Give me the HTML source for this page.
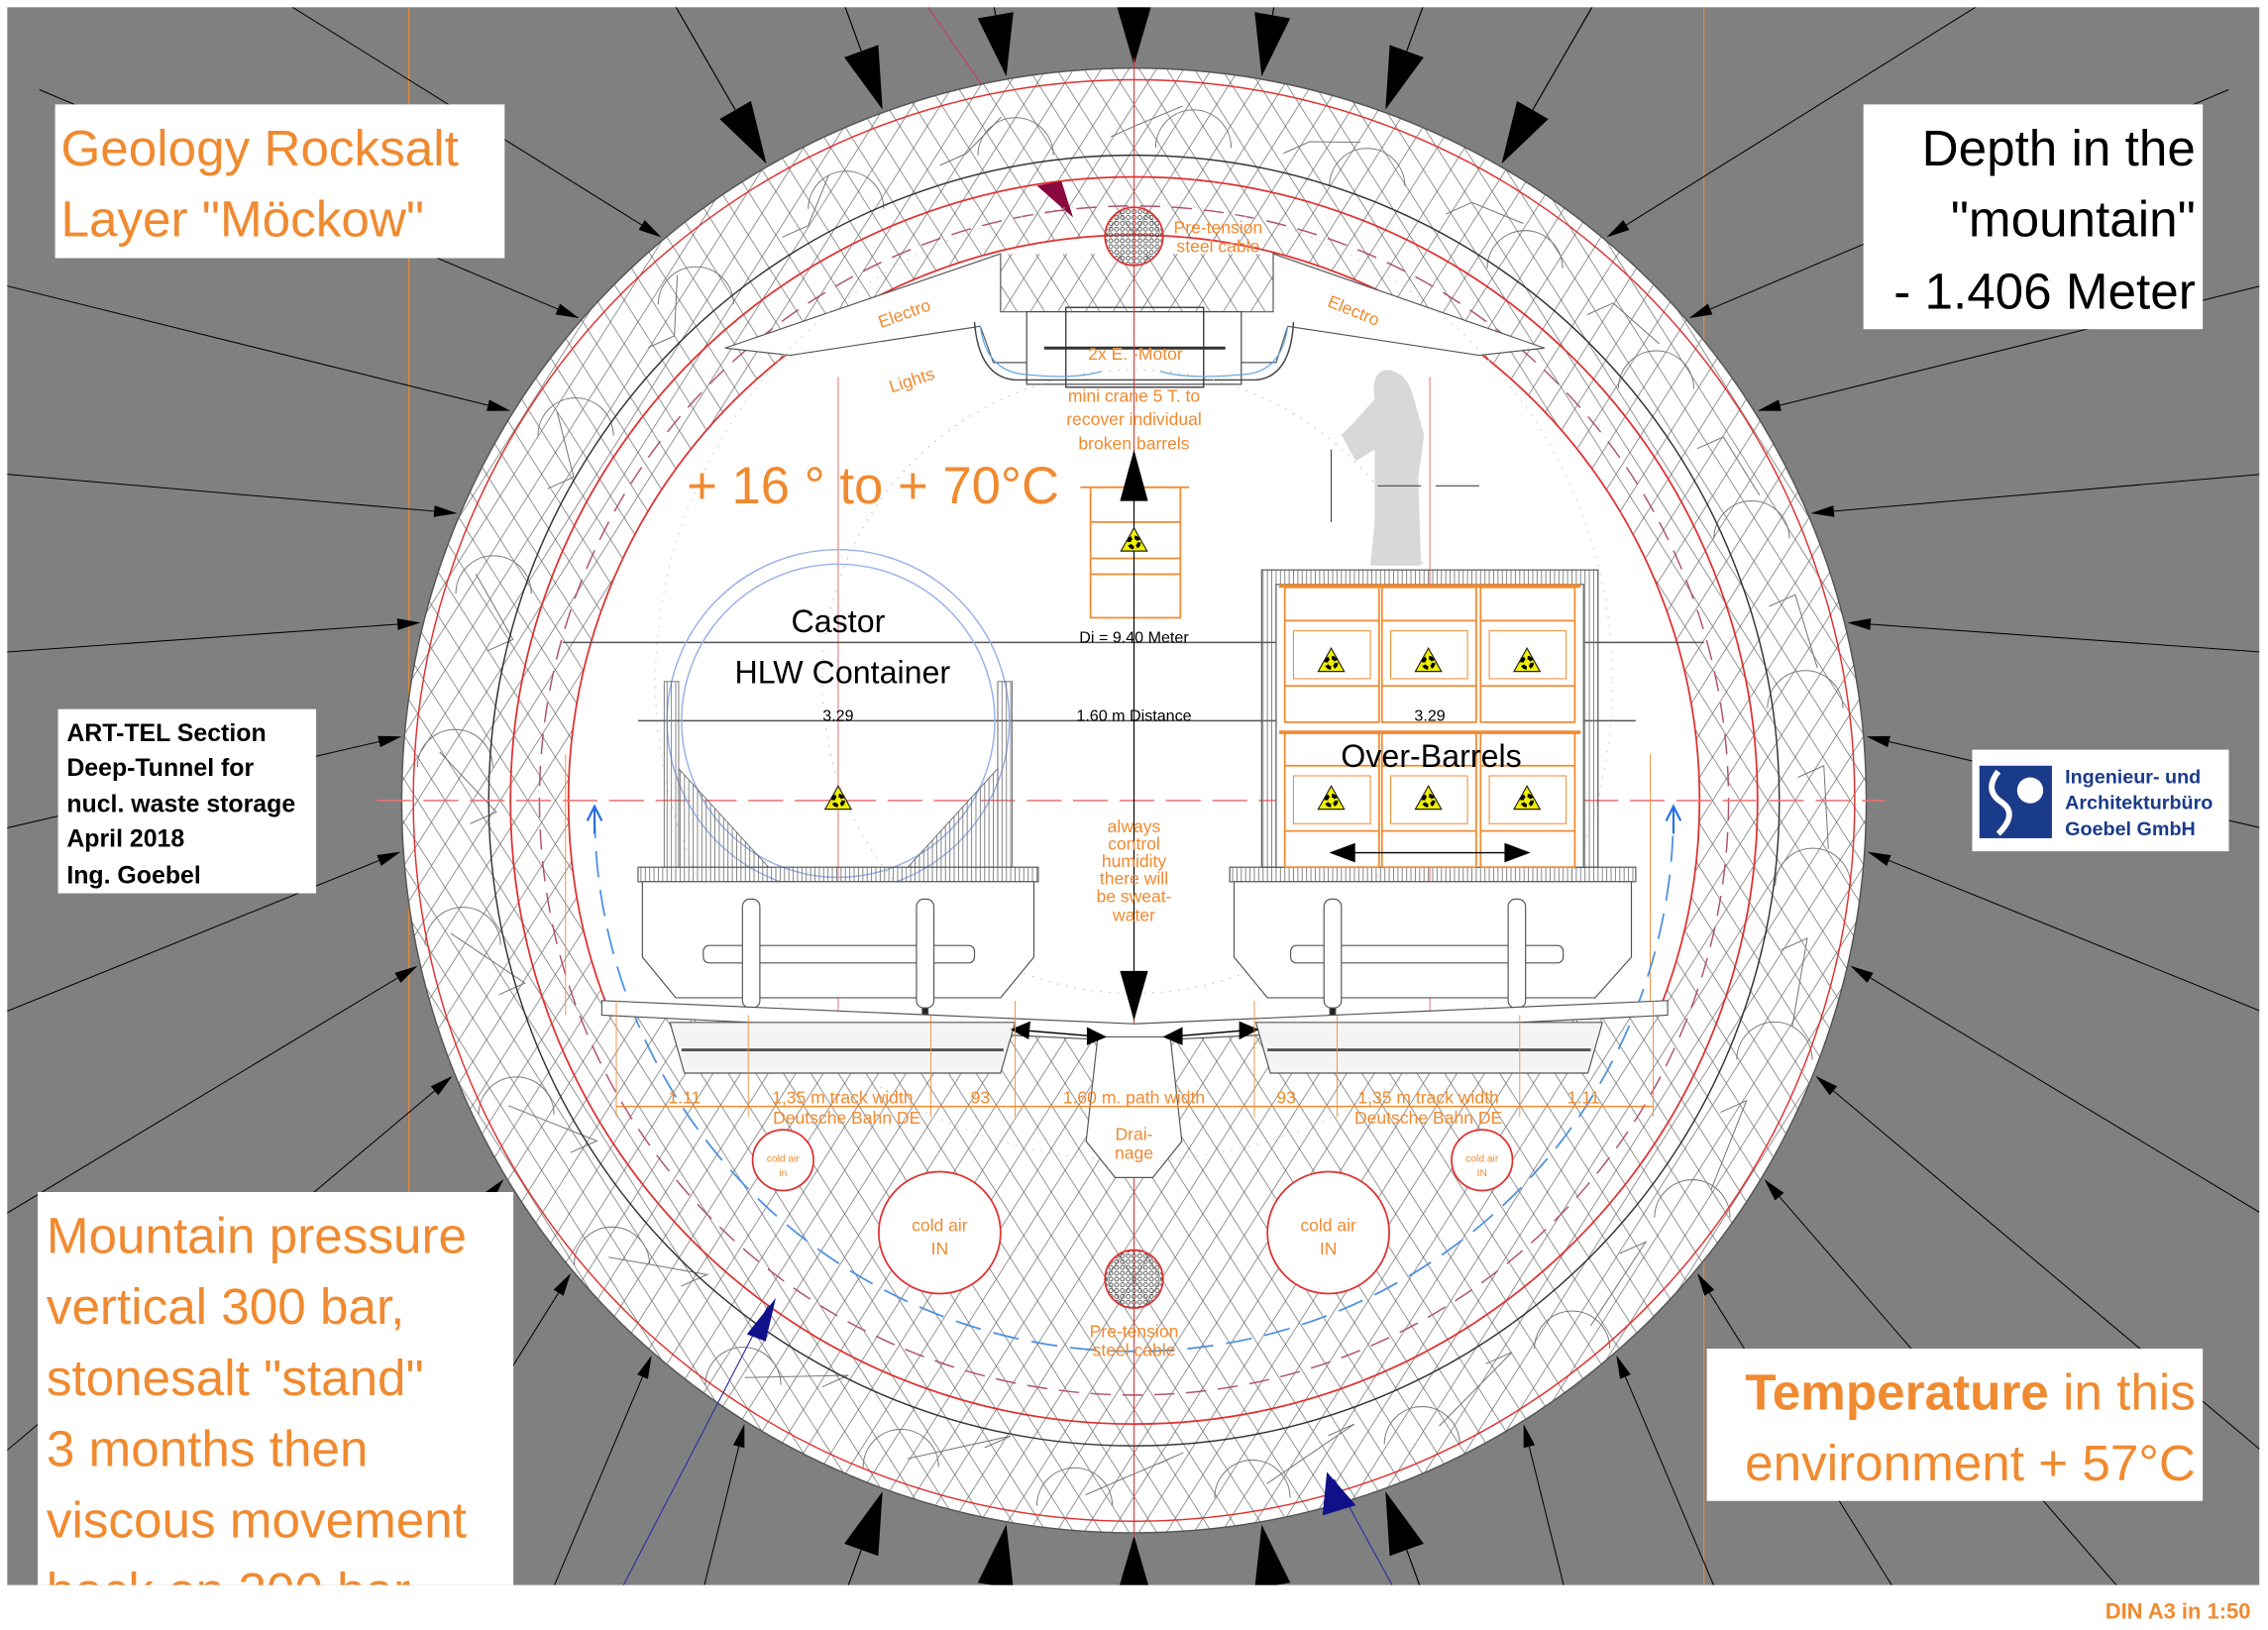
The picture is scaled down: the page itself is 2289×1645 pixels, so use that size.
<!DOCTYPE html>
<html><head><meta charset="utf-8">
<style>
html,body{margin:0;padding:0;background:#fff;width:2289px;height:1645px;overflow:hidden}
svg{display:block}
text{font-family:"Liberation Sans",sans-serif}
</style></head>
<body>
<svg id="s" width="2289" height="1645" viewBox="0 0 1564 1124" preserveAspectRatio="none" xmlns="http://www.w3.org/2000/svg">
<defs>
<pattern id="hatch" width="19" height="30" patternUnits="userSpaceOnUse" x="782" y="552">
<path d="M0,0 L19,30 M19,0 L0,30" stroke="#666" stroke-width="0.5" fill="none"/>
</pattern>
<pattern id="vh" width="3" height="10" patternUnits="userSpaceOnUse">
<path d="M1,0 V10" stroke="#777" stroke-width="0.6"/>
</pattern>
<pattern id="cab" width="4" height="4" patternUnits="userSpaceOnUse">
<circle cx="2" cy="2" r="1.4" fill="none" stroke="#444" stroke-width="0.6"/>
</pattern>
<clipPath id="inner">
<polygon points="0,0 1564,0 1564,690 782,706 0,690"/>
</clipPath>
<clipPath id="gray"><rect x="5" y="5" width="1553" height="1088"/></clipPath>
</defs>
<rect x="0" y="0" width="1564" height="1124" fill="#fff"/>
<rect x="5" y="5" width="1553" height="1088" fill="#808080"/>
<line x1="282" y1="5" x2="282" y2="1093" stroke="#f08a30" stroke-width="0.8"/>
<line x1="1175" y1="5" x2="1175" y2="1093" stroke="#f08a30" stroke-width="0.8"/>
<g id="arrows" clip-path="url(#gray)"></g>
<line x1="640" y1="5" x2="740" y2="150" stroke="#c04060" stroke-width="0.8"/>
<circle cx="782" cy="552" r="505" fill="#fff"/>
<circle cx="782" cy="552" r="505" fill="url(#hatch)"/>
<g id="tunnels" fill="none" stroke="#777" stroke-width="0.7"></g>
<circle cx="782" cy="552" r="497" fill="none" stroke="#e03030" stroke-width="1"/>
<circle cx="782" cy="552" r="505" fill="none" stroke="#555" stroke-width="1"/>
<circle cx="782" cy="552" r="445" fill="none" stroke="#333" stroke-width="1"/>
<circle cx="782" cy="552" r="430" fill="none" stroke="#e03030" stroke-width="1.2"/>
<circle cx="782" cy="552" r="410" fill="none" stroke="#b05070" stroke-width="1" stroke-dasharray="14 8"/>
<g clip-path="url(#inner)">
<circle cx="782" cy="552" r="390" fill="#fff"/>
<circle cx="782" cy="552" r="390" fill="none" stroke="#e03030" stroke-width="1.2"/>
</g>
<polygon points="500,240 690,175 690,215 878,215 878,175 1065,240 1020,245 888,225 880,250 685,250 676,225 545,245" fill="#fff" stroke="#555" stroke-width="0.8"/>
<rect x="690" y="175" width="188" height="40" fill="url(#hatch)"/>
<rect x="708" y="215" width="148" height="50" fill="#fff" stroke="#444" stroke-width="0.8"/>
<rect x="735" y="212" width="95" height="55" fill="none" stroke="#444" stroke-width="1"/>
<line x1="720" y1="240" x2="845" y2="240" stroke="#333" stroke-width="2"/>
<path d="M672,222 Q675,260 700,262 L866,262 Q890,260 892,222" fill="none" stroke="#444" stroke-width="1"/>
<path d="M676,225 Q680,255 705,258 Q740,262 760,256 M888,225 Q884,255 860,258 Q820,262 800,256" fill="none" stroke="#58a0e0" stroke-width="0.8"/>
<circle cx="782" cy="163" r="20" fill="url(#cab)" stroke="#e03030" stroke-width="1.2"/>
<path d="M740,150 L715,128 L732,125 Z" fill="#8a0a40"/>
<line x1="782" y1="40" x2="782" y2="1060" stroke="#e03030" stroke-width="0.7"/>
<line x1="260" y1="552" x2="1300" y2="552" stroke="#f07070" stroke-width="1" stroke-dasharray="24 8"/>
<line x1="578" y1="260" x2="578" y2="700" stroke="#f07070" stroke-width="0.7"/>
<line x1="986" y1="260" x2="986" y2="700" stroke="#f07070" stroke-width="0.7"/>
<line x1="390" y1="520" x2="390" y2="700" stroke="#f08a30" stroke-width="0.6"/>
<line x1="1138" y1="520" x2="1138" y2="700" stroke="#f08a30" stroke-width="0.6"/>
<path d="M410,560 A372,372 0 0 0 1154,560" fill="none" stroke="#4a90e0" stroke-width="1.2" stroke-dasharray="18 9"/>
<path d="M410,575 L410,556 M405,566 L410,556 L415,566" stroke="#2a70e0" stroke-width="1.5" fill="none"/>
<path d="M1154,575 L1154,556 M1149,566 L1154,556 L1159,566" stroke="#2a70e0" stroke-width="1.5" fill="none"/>
<circle cx="782" cy="470" r="215" fill="none" stroke="#bbb" stroke-width="0.8" stroke-dasharray="1 5"/>
<circle cx="782" cy="470" r="330" fill="none" stroke="#ccc" stroke-width="0.8" stroke-dasharray="1 5"/>
<line x1="388" y1="443" x2="1175" y2="443" stroke="#555" stroke-width="1"/>
<line x1="440" y1="497" x2="1128" y2="497" stroke="#555" stroke-width="1"/>
<path d="M955,255 Q945,258 948,275 L935,290 L925,300 L935,318 L948,310 L948,360 L945,390 L980,390 L978,330 L982,300 L975,275 Q970,255 955,255 Z" fill="#d8d8d8"/>
<line x1="918" y1="310" x2="918" y2="360" stroke="#444" stroke-width="0.8"/>
<line x1="950" y1="335" x2="1030" y2="335" stroke="#444" stroke-width="0.8" stroke-dasharray="30 10"/>
<circle cx="578" cy="497" r="118" fill="none" stroke="#9ab0e8" stroke-width="1"/>
<circle cx="578" cy="497" r="108" fill="none" stroke="#9ab0e8" stroke-width="1"/>
<polygon points="458,470 468,470 468,598 458,598" fill="url(#vh)" stroke="#666" stroke-width="0.6"/>
<polygon points="688,470 698,470 698,598 688,598" fill="url(#vh)" stroke="#666" stroke-width="0.6"/>
<polygon points="468,530 530,598 468,598" fill="url(#vh)" stroke="#666" stroke-width="0.6"/>
<polygon points="688,530 626,598 688,598" fill="url(#vh)" stroke="#666" stroke-width="0.6"/>
<g stroke="#555" stroke-width="0.8" fill="none">
<rect x="440" y="598" width="276" height="10" fill="url(#vh)"/>
<polygon points="443,608 713,608 713,660 690,688 466,688 443,660" fill="#fff"/>
<rect x="848" y="598" width="280" height="10" fill="url(#vh)"/>
<polygon points="851,608 1125,608 1125,660 1100,688 874,688 851,660" fill="#fff"/>
<rect x="870" y="393" width="232" height="205" fill="url(#vh)"/>
<rect x="880" y="403" width="212" height="195" fill="#fff"/>
</g>
<g id="wheels" stroke="#555" stroke-width="0.8" fill="#fff"></g>
<g id="barrels" stroke="#f08a30" stroke-width="1.2" fill="none"></g>
<g stroke="#f08a30" stroke-width="1.2" fill="none">
<rect x="752" y="336" width="62" height="90"/>
<line x1="745" y1="336" x2="820" y2="336"/>
<line x1="752" y1="360" x2="814" y2="360"/><line x1="752" y1="385" x2="814" y2="385"/><line x1="752" y1="396" x2="814" y2="396"/>
</g>
<g stroke="#555" stroke-width="0.8">
<polygon points="415,690 782,706 1150,690 1150,700 782,718 415,700" fill="#fff"/>
<polygon points="462,705 700,705 690,740 472,740" fill="#f4f4f4"/>
<polygon points="866,705 1105,705 1095,740 876,740" fill="#f4f4f4"/>
<line x1="470" y1="724" x2="692" y2="724" stroke-width="2"/>
<line x1="874" y1="724" x2="1097" y2="724" stroke-width="2"/>
<polygon points="757,715 807,715 815,787 795,812 769,812 749,787" fill="#fff"/>
</g>
<g fill="#000" stroke="#000">
<line x1="782" y1="320" x2="782" y2="700" stroke-width="0.8"/>
<polygon points="782,312 773,345 791,345"/>
<polygon points="782,702 773,670 791,670"/>
<line x1="700" y1="710" x2="760" y2="715" stroke-width="1"/>
<polygon points="762,715 750,709 750,720"/><polygon points="698,710 710,705 709,716"/>
<line x1="805" y1="715" x2="865" y2="710" stroke-width="1"/>
<polygon points="803,715 815,709 815,720"/><polygon points="867,710 855,705 855,716"/>
<line x1="925" y1="588" x2="1048" y2="588" stroke-width="1"/>
<polygon points="918,588 934,582 934,594"/><polygon points="1054,588 1038,582 1038,594"/>
</g>
<line x1="425" y1="763" x2="1140" y2="763" stroke="#f08a30" stroke-width="1"/>
<g stroke="#f08a30" stroke-width="0.6">
<line x1="425" y1="690" x2="425" y2="770"/><line x1="516" y1="700" x2="516" y2="770"/><line x1="642" y1="700" x2="642" y2="770"/><line x1="700" y1="690" x2="700" y2="770"/><line x1="865" y1="690" x2="865" y2="770"/><line x1="922" y1="700" x2="922" y2="770"/><line x1="1048" y1="700" x2="1048" y2="770"/><line x1="1140" y1="690" x2="1140" y2="770"/>
</g>
<g fill="#fff" stroke="#e03030" stroke-width="1.2">
<circle cx="540" cy="800" r="21"/><circle cx="1022" cy="800" r="21"/>
<circle cx="648" cy="850" r="42"/><circle cx="916" cy="850" r="42"/>
</g>
<circle cx="782" cy="882" r="20" fill="url(#cab)" stroke="#e03030" stroke-width="1.2"/>
<line x1="430" y1="1093" x2="530" y2="900" stroke="#3030a0" stroke-width="0.8"/>
<polygon points="535,895 515,920 528,925" fill="#10108a"/>
<line x1="960" y1="1093" x2="920" y2="1020" stroke="#3030a0" stroke-width="0.8"/>
<polygon points="915,1015 912,1045 935,1038" fill="#10108a"/>
<g id="rad"></g>
<g fill="#f08a30" font-size="12" text-anchor="middle">
<text x="840" y="161">Pre-tension</text><text x="840" y="174">steel cable</text>
<text x="782" y="922">Pre-tension</text><text x="782" y="935">steel cable</text>
<text x="625" y="220" transform="rotate(-20 625 220)">Electro</text>
<text x="932" y="218" transform="rotate(22 932 218)">Electro</text>
<text x="630" y="266" transform="rotate(-18 630 266)">Lights</text>
<text x="783" y="248">2x E. -Motor</text>
<text x="782" y="277">mini crane 5 T. to</text>
<text x="782" y="293">recover individual</text>
<text x="782" y="310">broken barrels</text>
<text x="782" y="574">always</text><text x="782" y="586">control</text><text x="782" y="598">humidity</text><text x="782" y="610">there will</text><text x="782" y="622">be sweat-</text><text x="782" y="635">water</text>
<text x="472" y="761">1.11</text><text x="581" y="761">1,35 m track width</text><text x="676" y="761">93</text><text x="782" y="761">1.60 m. path width</text><text x="887" y="761">93</text><text x="985" y="761">1,35 m track width</text><text x="1092" y="761">1.11</text>
<text x="584" y="775">Deutsche Bahn DE</text><text x="985" y="775">Deutsche Bahn DE</text>
<text x="782" y="786">Drai-</text><text x="782" y="799">nage</text>
<text x="648" y="849">cold air</text><text x="648" y="865">IN</text>
<text x="916" y="849">cold air</text><text x="916" y="865">IN</text>
<text x="540" y="801" font-size="7">cold air</text><text x="540" y="811" font-size="7">in</text>
<text x="1022" y="801" font-size="7">cold air</text><text x="1022" y="811" font-size="7">IN</text>
</g>
<text x="602" y="347" fill="#f08a30" font-size="36" text-anchor="middle">+ 16 ° to + 70°C</text>
<g fill="#000" text-anchor="middle">
<text x="578" y="436" font-size="22">Castor</text>
<text x="581" y="471" font-size="22">HLW Container</text>
<text x="987" y="529" font-size="22">Over-Barrels</text>
<text x="782" y="443" font-size="11">Di = 9.40 Meter</text>
<text x="578" y="497" font-size="11">3.29</text>
<text x="782" y="497" font-size="11">1.60 m Distance</text>
<text x="986" y="497" font-size="11">3.29</text>
</g>
<rect x="38" y="72" width="310" height="106" fill="#fff"/>
<text fill="#f08a30" font-size="35"><tspan x="42" y="114">Geology Rocksalt</tspan><tspan x="42" y="163">Layer  "Möckow"</tspan></text>
<rect x="1285" y="72" width="234" height="155" fill="#fff"/>
<text fill="#000" font-size="35" text-anchor="end"><tspan x="1514" y="114">Depth in the</tspan><tspan x="1514" y="163">"mountain"</tspan><tspan x="1514" y="213">- 1.406 Meter</tspan></text>
<rect x="40" y="489" width="178" height="127" fill="#fff"/>
<text fill="#000" font-size="17" font-weight="bold"><tspan x="46" y="511">ART-TEL Section</tspan><tspan x="46" y="535">Deep-Tunnel for</tspan><tspan x="46" y="560">nucl. waste storage</tspan><tspan x="46" y="584">April 2018</tspan><tspan x="46" y="609">Ing. Goebel</tspan></text>
<rect x="1360" y="517" width="177" height="70" fill="#fff"/>
<rect x="1365" y="528" width="50" height="50" fill="#1a3a8a"/>
<path d="M1378,532 Q1368,545 1380,553 Q1392,561 1378,575" stroke="#fff" stroke-width="4" fill="none"/>
<circle cx="1400" cy="545" r="9" fill="#fff"/>
<text fill="#1a3a8a" font-size="13.5" font-weight="bold"><tspan x="1424" y="540">Ingenieur- und</tspan><tspan x="1424" y="558">Architekturbüro</tspan><tspan x="1424" y="576">Goebel GmbH</tspan></text>
<rect x="26" y="822" width="328" height="271" fill="#fff"/>
<g clip-path="url(#gray)">
<text fill="#f08a30" font-size="35"><tspan x="32" y="864">Mountain pressure</tspan><tspan x="32" y="913">vertical 300 bar,</tspan><tspan x="32" y="962">stonesalt "stand"</tspan><tspan x="32" y="1011">3 months then</tspan><tspan x="32" y="1060">viscous movement</tspan><tspan x="32" y="1109">back on 300 bar</tspan></text>
</g>
<rect x="1177" y="930" width="342" height="105" fill="#fff"/>
<text fill="#f08a30" font-size="35" text-anchor="end"><tspan x="1514" y="972"><tspan font-weight="bold">Temperature</tspan> in this</tspan><tspan x="1514" y="1021">environment + 57°C</tspan></text>
<text x="1552" y="1116" fill="#f08a30" font-size="15" font-weight="bold" text-anchor="end">DIN A3 in 1:50</text>
</svg>
<script>
var NS="http://www.w3.org/2000/svg";
function el(p,t,a){var e=document.createElementNS(NS,t);for(var k in a)e.setAttribute(k,a[k]);p.appendChild(e);return e;}
var cx=782,cy=552,R=505;
var ar=document.getElementById('arrows');
function pt(a,r){var t=a*Math.PI/180;return[cx+r*Math.sin(t),cy-r*Math.cos(t)];}
var thick=[-30,-20,-10,0,10,20,30,160,170,180,190,200];
thick.forEach(function(a){
 var o=pt(a,900),tip=pt(a,R+2),b=pt(a,R+45),l=pt(a+1.3,R+45),r=pt(a-1.3,R+45);
 el(ar,'line',{x1:o[0],y1:o[1],x2:b[0],y2:b[1],stroke:'#000','stroke-width':0.8});
 el(ar,'polygon',{points:tip+' '+l+' '+r,fill:'#000'});
});
for(var a=40;a<=150;a+=9){[a,-a].forEach(function(q){
 var o=pt(q+(q>0?8:-8),900),tip=pt(q,R+2);
 var dx=tip[0]-o[0],dy=tip[1]-o[1],L=Math.hypot(dx,dy);dx/=L;dy/=L;
 var bx=tip[0]-dx*16,by=tip[1]-dy*16;
 el(ar,'line',{x1:o[0],y1:o[1],x2:bx,y2:by,stroke:'#000','stroke-width':0.7});
 el(ar,'polygon',{points:tip[0]+','+tip[1]+' '+(bx-dy*4)+','+(by+dx*4)+' '+(bx+dy*4)+','+(by-dx*4),fill:'#000'});
});}
var tu=document.getElementById('tunnels');
for(var a=0;a<360;a+=15){var p=pt(a+5,470);
 el(tu,'path',{d:'M'+(p[0]-26)+','+(p[1]+18)+' A26,26 0 1 1 '+(p[0]+26)+','+(p[1]+18)});
 var q=pt(a-2,458),q2=pt(a+4,480);el(tu,'polyline',{points:q+' '+[q[0]+18,q[1]-8]+' '+q2});}
var wh=document.getElementById('wheels');
[[485,672],[890,1078]].forEach(function(w){
 el(wh,'rect',{x:w[0],y:652,width:w[1]-w[0],height:12,rx:4});
});
[512,632,913,1040].forEach(function(x){
 el(wh,'rect',{x:x,y:620,width:12,height:75,rx:5});
 el(wh,'rect',{x:x+4,y:695,width:4,height:12,fill:'#222'});
});
var br=document.getElementById('barrels');
[886,953,1021].forEach(function(x){[405,505].forEach(function(y){
 el(br,'rect',{x:x,y:y,width:65,height:93});
 el(br,'line',{x1:x,y1:y+23,x2:x+65,y2:y+23});
 el(br,'line',{x1:x,y1:y+68,x2:x+65,y2:y+68});
 el(br,'rect',{x:x+6,y:y+30,width:53,height:33,'stroke-width':0.7});
});});
el(br,'line',{x1:882,y1:404,x2:1090,y2:404,'stroke-width':2.5});
el(br,'line',{x1:882,y1:505,x2:1090,y2:505,'stroke-width':2.5});
var rd=document.getElementById('rad');
[[918,456],[985,456],[1053,456],[918,551],[985,551],[1053,551],[578,551],[782,373]].forEach(function(p){
 var x=p[0],y=p[1];
 el(rd,'polygon',{points:(x)+','+(y-9)+' '+(x-9)+','+(y+7)+' '+(x+9)+','+(y+7),fill:'#f0f000',stroke:'#222','stroke-width':0.8});
 el(rd,'circle',{cx:x,cy:y+1,r:3.5,fill:'none',stroke:'#000','stroke-width':2.5,'stroke-dasharray':'3.6 2'});
});
</script>
</body></html>
